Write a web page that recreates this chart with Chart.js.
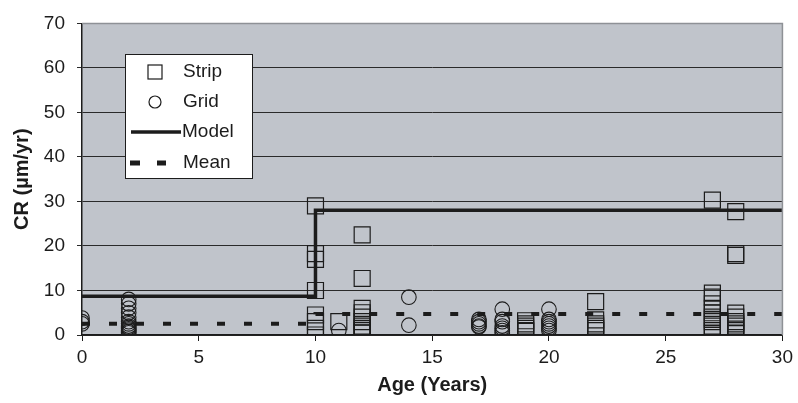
<!DOCTYPE html>
<html lang="en">
<head>
    <meta charset="UTF-8">
    <title>CR vs Age</title>
    <script src="https://cdn.jsdelivr.net/npm/chart.js"></script>
    <style>
        body { margin: 0; background: #fff; }
        #wrap { width: 798px; height: 403px; position: relative; }
    </style>
</head>
<body>
    <div id="wrap"><canvas id="crChart"></canvas></div>
    <script>
        // x tick values and y tick values
        const xTicks = [0, 5, 10, 15, 20, 25, 30];
        const yTicks = [0, 10, 20, 30, 40, 50, 60, 70];

        // Strip coupons (squares)
        const stripAge = [10, 10, 10, 10, 10, 10, 10, 10,
                          11,
                          12, 12, 12, 12, 12, 12, 12, 12, 12, 12,
                          19, 19, 19, 19, 19, 19,
                          22, 22, 22, 22, 22, 22,
                          27, 27, 27, 27, 27, 27, 27, 27, 27, 27, 27, 27,
                          28, 28, 28, 28, 28, 28, 28, 28, 28, 28];
        const stripCR = [29, 18.3, 17, 10, 4.5, 3, 1.5, 0,
                         3,
                         22.5, 12.7, 6, 5, 4, 3, 2, 1.5, 1, 0.5,
                         3.2, 2.5, 2, 1.5, 1, 0.8,
                         7.5, 3.4, 2.5, 2, 1.5, 1,
                         30.3, 9.4, 8.5, 7, 6, 5, 4, 3.5, 3, 2, 1, 0.3,
                         27.7, 18.3, 17.9, 4.9, 4, 3, 2.5, 2, 1, 0.3];

        // Grid coupons (circles)
        const gridAge = [0, 0, 0,
                         2, 2, 2, 2, 2, 2, 2, 2, 2, 2, 2, 2, 2,
                         11,
                         14, 14,
                         17, 17, 17, 17, 17,
                         18, 18, 18, 18, 18, 18, 18,
                         20, 20, 20, 20, 20, 20, 20];
        const gridCR = [3.8, 3, 2.5,
                        8, 7, 6, 5, 4, 3, 2.5, 2, 1.7, 1.4, 1.1, 0.8, 0.5,
                        1,
                        8.5, 2.2,
                        3.5, 3, 2.5, 2, 1.8,
                        5.8, 3.5, 3, 2, 1.5, 1, 0.5,
                        5.8, 3.5, 3, 2.5, 2, 1.5, 1];

        // step model and mean
        const modelAge = [0, 10, 10, 30];
        const modelCR = [8.7, 8.7, 28, 28];
        const meanAge = [0, 10, 10, 30];
        const meanCR = [2.5, 2.5, 4.7, 4.7];

        const zip = (xs, ys) => xs.map((x, i) => ({ x: x, y: ys[i] }));
        const ink = '#1c1c1c';
        const font = "'Liberation Sans', Arial, sans-serif";

        const plotBg = {
            id: 'plotBg',
            beforeDraw(chart) {
                const { ctx, chartArea: a } = chart;
                ctx.save();
                ctx.fillStyle = '#c0c4cb';
                ctx.fillRect(a.left, a.top, a.right - a.left, a.bottom - a.top);
                ctx.restore();
            },
            afterDatasetsDraw(chart) {
                const { ctx, chartArea: a } = chart;
                ctx.save();
                ctx.strokeStyle = '#8e9196';
                ctx.lineWidth = 1.5;
                ctx.beginPath();
                ctx.moveTo(a.left, a.top);
                ctx.lineTo(a.right, a.top);
                ctx.lineTo(a.right, a.bottom);
                ctx.stroke();
                ctx.restore();
            }
        };

        // legend box sitting inside the plot
        const boxLegend = {
            id: 'boxLegend',
            afterDraw(chart) {
                const ctx = chart.ctx;
                const ds = chart.data.datasets;
                const bx = 125, by = 54, bw = 127, bh = 124;
                const rows = [72, 102, 132, 163];
                ctx.save();
                ctx.fillStyle = '#fff';
                ctx.fillRect(bx, by, bw, bh);
                ctx.strokeStyle = ink;
                ctx.lineWidth = 1;
                ctx.strokeRect(bx + 0.5, by + 0.5, bw, bh);

                ctx.strokeStyle = ink;
                ctx.lineWidth = 1.2;
                ctx.strokeRect(148, rows[0] - 7, 14, 14);
                ctx.beginPath();
                ctx.arc(155, rows[1], 6, 0, Math.PI * 2);
                ctx.stroke();

                ctx.lineWidth = 3.5;
                ctx.beginPath();
                ctx.moveTo(131, rows[2]);
                ctx.lineTo(181, rows[2]);
                ctx.stroke();

                ctx.fillStyle = ink;
                ctx.fillRect(130, rows[3] - 2.5, 10, 5);
                ctx.fillRect(157, rows[3] - 2.5, 9, 5);

                ctx.font = '19px ' + font;
                ctx.textBaseline = 'middle';
                ctx.fillText(ds[0].label, 183, rows[0]);
                ctx.fillText(ds[1].label, 183, rows[1]);
                ctx.fillText(ds[2].label, 182, rows[2]);
                ctx.fillText(ds[3].label, 183, rows[3]);
                ctx.restore();
            }
        };

        new Chart(document.getElementById('crChart'), {
            type: 'scatter',
            data: {
                datasets: [
                    {
                        label: 'Strip',
                        data: zip(stripAge, stripCR),
                        pointStyle: 'rect',
                        pointRadius: 11.3,
                        borderColor: ink,
                        borderWidth: 1.2,
                        backgroundColor: 'rgba(0,0,0,0)',
                        order: 1
                    },
                    {
                        label: 'Grid',
                        data: zip(gridAge, gridCR),
                        pointStyle: 'circle',
                        pointRadius: 7.3,
                        borderColor: ink,
                        borderWidth: 1.1,
                        backgroundColor: 'rgba(0,0,0,0)',
                        order: 2
                    },
                    {
                        label: 'Model',
                        data: zip(modelAge, modelCR),
                        showLine: true,
                        pointRadius: 0,
                        borderColor: ink,
                        borderWidth: 3.5,
                        order: 3
                    },
                    {
                        label: 'Mean',
                        data: zip(meanAge, meanCR),
                        showLine: true,
                        pointRadius: 0,
                        borderColor: ink,
                        borderWidth: 4,
                        borderDash: [8, 19],
                        order: 4
                    }
                ]
            },
            options: {
                responsive: true,
                maintainAspectRatio: false,
                animation: false,
                layout: { padding: { top: 22, right: 13, left: 0, bottom: 0 } },
                plugins: {
                    legend: { display: false },
                    tooltip: { enabled: false }
                },
                scales: {
                    x: {
                        type: 'linear',
                        min: 0,
                        max: 30,
                        afterBuildTicks: s => { s.ticks = xTicks.map(v => ({ value: v })); },
                        afterFit: s => { s.height = 68; },
                        ticks: { color: ink, font: { family: font, size: 19 }, padding: 5 },
                        grid: { drawOnChartArea: false, drawTicks: true, tickLength: 6, color: ink },
                        border: { color: ink, width: 1.5 },
                        title: {
                            display: true,
                            text: 'Age (Years)',
                            color: ink,
                            font: { family: font, size: 20, weight: 'bold' },
                            padding: { top: 4, bottom: 6 }
                        }
                    },
                    y: {
                        min: 0,
                        max: 70,
                        afterBuildTicks: s => { s.ticks = yTicks.map(v => ({ value: v })); },
                        afterFit: s => { s.width = 82; },
                        ticks: { color: ink, font: { family: font, size: 19 }, padding: 12 },
                        grid: { color: '#2a2a2a', lineWidth: 1, tickLength: 5 },
                        border: { color: ink, width: 1.5 },
                        title: {
                            display: true,
                            text: 'CR (µm/yr)',
                            color: ink,
                            font: { family: font, size: 20, weight: 'bold' },
                            padding: { top: 10, bottom: 4 }
                        }
                    }
                }
            },
            plugins: [plotBg, boxLegend]
        });
    </script>
</body>
</html>
